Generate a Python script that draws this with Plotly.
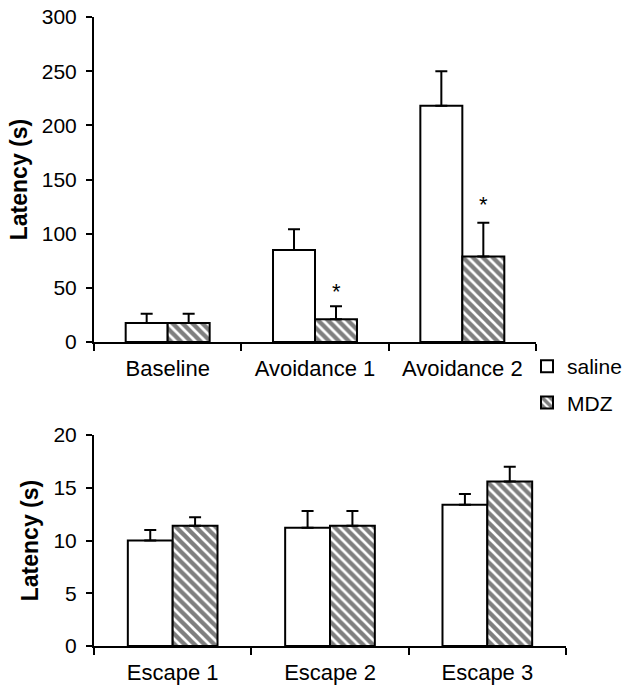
import plotly.graph_objects as go

# ---- data ----
top_categories = ["Baseline", "Avoidance 1", "Avoidance 2"]
top_saline = [17.5, 85, 218]
top_saline_err = [8.5, 19, 32]
top_mdz = [17.5, 21, 79]
top_mdz_err = [8.5, 12, 31]
top_sig_text = ["", "*", "*"]
top_sig_y = [None, 51, 132]

bot_categories = ["Escape 1", "Escape 2", "Escape 3"]
bot_saline = [10.0, 11.2, 13.4]
bot_saline_err = [1.0, 1.6, 1.0]
bot_mdz = [11.4, 11.4, 15.6]
bot_mdz_err = [0.8, 1.4, 1.4]

FONT = "Arial, Liberation Sans, sans-serif"
W, H = 628, 687

fig = go.Figure()

def add_pair(cats, sal, sal_err, mdz, mdz_err, xa, ya, show):
    fig.add_trace(go.Bar(
        x=cats, y=sal, name="saline", legendgroup="saline", showlegend=show,
        marker=dict(color="white", line=dict(color="black", width=2)),
        error_y=dict(type="data", symmetric=False, array=sal_err,
                     arrayminus=[0] * len(sal_err), color="black", thickness=2, width=6),
        xaxis=xa, yaxis=ya))
    fig.add_trace(go.Bar(
        x=cats, y=mdz, name="MDZ", legendgroup="mdz", showlegend=show,
        marker=dict(color="white", line=dict(color="black", width=2),
                    pattern=dict(shape="\\", fgcolor="black", bgcolor="white",
                                 size=7, solidity=0.62)),
        error_y=dict(type="data", symmetric=False, array=mdz_err,
                     arrayminus=[0] * len(mdz_err), color="black", thickness=2, width=6),
        xaxis=xa, yaxis=ya))

add_pair(top_categories, top_saline, top_saline_err, top_mdz, top_mdz_err, "x", "y", True)
add_pair(bot_categories, bot_saline, bot_saline_err, bot_mdz, bot_mdz_err, "x2", "y2", False)

# significance stars above MDZ error bars
for c, s, sy in zip(top_categories, top_sig_text, top_sig_y):
    if s:
        fig.add_annotation(x=c, y=sy, xref="x", yref="y", text=s, showarrow=False,
                           xshift=21, yshift=-5, yanchor="middle",
                           font=dict(family=FONT, size=22, color="black"))

xaxis_common = dict(showline=True, linecolor="black", linewidth=2, ticks="outside",
                    ticklen=7, tickwidth=2, tickcolor="black", tickson="boundaries",
                    showgrid=False, zeroline=False, automargin=False,
                    tickfont=dict(family=FONT, size=22, color="black"),
                    ticklabelstandoff=6)
yaxis_common = dict(showline=True, linecolor="black", linewidth=2, ticks="outside",
                    ticklen=6, tickwidth=2, tickcolor="black",
                    showgrid=False, zeroline=False, automargin=False,
                    tickfont=dict(family=FONT, size=21, color="black"),
                    ticklabelstandoff=5,
                    title=dict(text="<b>Latency (s)</b>", standoff=8,
                               font=dict(family=FONT, size=23, color="black")))

fig.update_layout(
    width=W, height=H,
    margin=dict(l=0, r=0, t=0, b=0),
    paper_bgcolor="white", plot_bgcolor="white",
    barmode="group", bargap=0.43, bargroupgap=0,
    xaxis=dict(domain=[94 / W, 536 / W], anchor="y", **xaxis_common),
    yaxis=dict(domain=[1 - 342 / H, 1 - 17 / H], anchor="x", range=[0, 300],
               tickvals=[0, 50, 100, 150, 200, 250, 300], **yaxis_common),
    xaxis2=dict(domain=[94 / W, 566 / W], anchor="y2", **xaxis_common),
    yaxis2=dict(domain=[1 - 646 / H, 1 - 435 / H], anchor="x2", range=[0, 20],
                tickvals=[0, 5, 10, 15, 20], **yaxis_common),
    legend=dict(x=527 / W, y=1 - 346 / H, xanchor="left", yanchor="top",
                bgcolor="rgba(0,0,0,0)", tracegroupgap=6,
                font=dict(family=FONT, size=21, color="black")),
    showlegend=True,
)

fig.write_html("out.html")
